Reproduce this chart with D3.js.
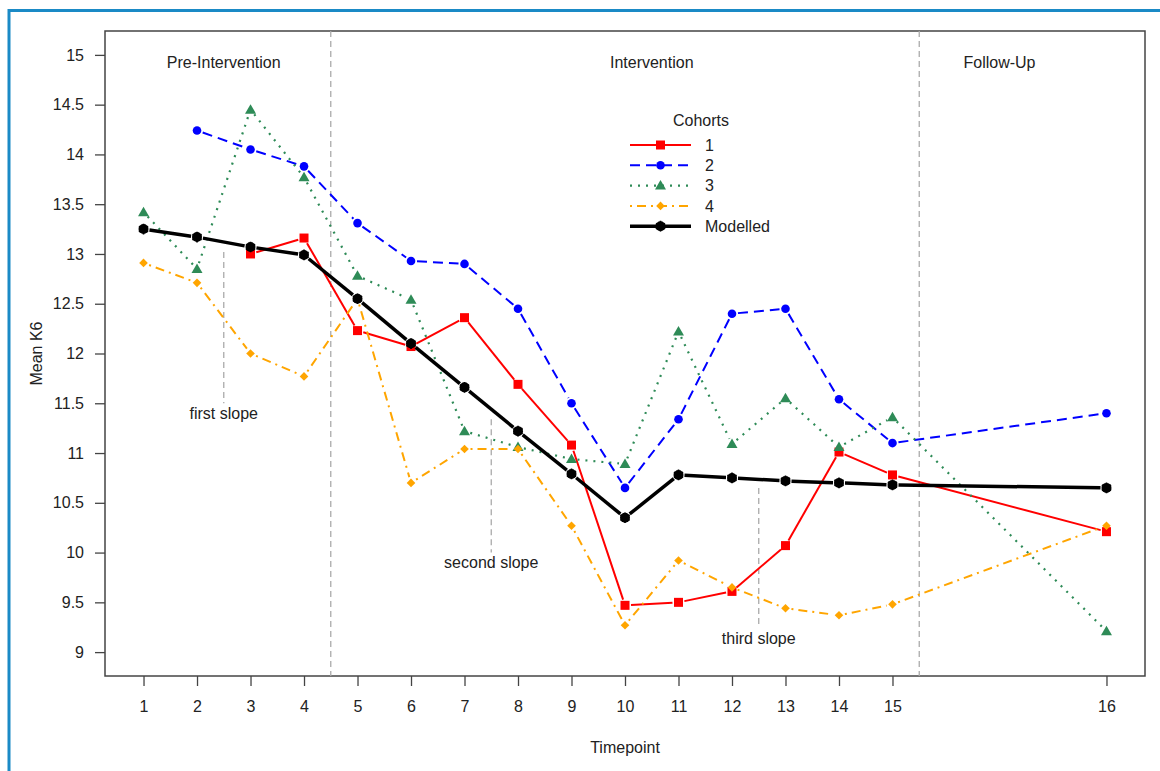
<!DOCTYPE html>
<html>
<head>
<meta charset="utf-8">
<script src="https://cdn.jsdelivr.net/npm/d3@7"></script>
<style>
  body { margin: 0; background: #fff; }
  svg { display: block; font-family: "Liberation Sans", Arial, sans-serif; }
  svg text { fill: #222; font-size: 16px; font-family: "Liberation Sans", Arial, sans-serif; }
</style>
</head>
<body>
<div id="chart"></div>
<script>
/* Mean K6 by timepoint, cohorts + modelled */

// timepoint positions on the x scale (16 sits after a gap) and their labels
const timeX = [1, 2, 3, 4, 5, 6, 7, 8, 9, 10, 11, 12, 13, 14, 15, 19];
const tickLabels = ["1", "2", "3", "4", "5", "6", "7", "8", "9", "10", "11", "12", "13", "14", "15", "16"];
const yTicks = [9, 9.5, 10, 10.5, 11, 11.5, 12, 12.5, 13, 13.5, 14, 14.5, 15];

const cohort1 = [null, null, 13.00, 13.16, 12.23, 12.07, 12.36, 11.69, 11.08, 9.47, 9.50, 9.61, 10.07, 11.01, 10.78, 10.21];
const cohort2 = [null, 14.24, 14.05, 13.88, 13.31, 12.93, 12.90, 12.45, 11.50, 10.65, 11.34, 12.40, 12.45, 11.54, 11.10, 11.40];
const cohort3 = [13.42, 12.85, 14.45, 13.77, 12.78, 12.54, 11.22, 11.06, 10.94, 10.89, 12.22, 11.09, 11.55, 11.06, 11.36, 9.21];
const cohort4 = [12.91, 12.71, 12.00, 11.77, 12.55, 10.70, 11.04, 11.04, 10.27, 9.27, 9.92, 9.65, 9.44, 9.37, 9.48, 10.27];
const modelled = [13.25, 13.17, 13.07, 12.99, 12.55, 12.10, 11.66, 11.22, 10.79, 10.35, 10.78, 10.75, 10.72, 10.70, 10.68, 10.65];

const phaseBreaks = [4.5, 15.5];
const phaseLabels = ["Pre-Intervention", "Intervention", "Follow-Up"];
const phaseLabelX = [2.5, 10.5, 17];

const slopeNames = ["first slope", "second slope", "third slope"];
const slopeX = [2.5, 7.5, 12.5];
const slopeTop = [13.02, 11.34, 10.65];
const slopeBottom = [11.50, 10.00, 9.25];
const slopeLabelY = [11.40, 9.90, 9.14];

const seriesNames = ["1", "2", "3", "4", "Modelled"];

const width = 1160, height = 771,
  margin = ({ top: 31, right: 15, bottom: 95, left: 105 });

const svg = d3.select("#chart")
  .append("svg")
  .attr("width", width)
  .attr("height", height)
  .attr("viewBox", [0, 0, width, height]);

// outer blue frame
svg.append("path")
  .attr("d", `M9,${height + 5}V10.5H${width + 5}`)
  .attr("fill", "none")
  .attr("stroke", "#1a8ac6")
  .attr("stroke-width", 3);

let x = d3.scaleLinear()
  .domain([0.28, 19.72])
  .range([margin.left, width - margin.right]);

let y = d3.scaleLinear()
  .domain([8.76, 15.24])
  .range([height - margin.bottom, margin.top]);

svg.append("g")
  .attr("class", "y-axis")
  .attr("transform", `translate(${margin.left},0)`)
  .call(d3.axisLeft(y)
    .tickValues(yTicks)
    .tickFormat(d => d)
    .tickSize(10)
    .tickPadding(11));

svg.append("g")
  .attr("class", "x-axis")
  .attr("transform", `translate(0,${height - margin.bottom})`)
  .call(d3.axisBottom(x)
    .tickValues(timeX)
    .tickFormat((d, i) => tickLabels[i])
    .tickSize(10)
    .tickPadding(15));

svg.selectAll(".domain").remove();
svg.selectAll(".tick line").attr("stroke", "#444").attr("stroke-width", 1.3);
svg.selectAll(".tick text").style("font-size", "16px").style("fill", "#222");

svg.append("rect")
  .attr("x", margin.left)
  .attr("y", margin.top)
  .attr("width", width - margin.left - margin.right)
  .attr("height", height - margin.top - margin.bottom)
  .attr("fill", "none")
  .attr("stroke", "#444")
  .attr("stroke-width", 1.5);

svg.append("text")
  .attr("text-anchor", "middle")
  .attr("x", (margin.left + width - margin.right) / 2)
  .attr("y", 753)
  .text("Timepoint");

svg.append("text")
  .attr("text-anchor", "middle")
  .attr("transform", `translate(42,${(margin.top + height - margin.bottom) / 2}) rotate(-90)`)
  .text("Mean K6");

// phase separators
svg.selectAll(".phase-line")
  .data(phaseBreaks)
  .join("line")
  .attr("x1", d => x(d)).attr("x2", d => x(d))
  .attr("y1", margin.top).attr("y2", height - margin.bottom)
  .attr("stroke", "#aaa")
  .attr("stroke-width", 1.3)
  .attr("stroke-dasharray", "6,4");

svg.selectAll(".phase-label")
  .data(phaseLabels)
  .join("text")
  .attr("text-anchor", "middle")
  .attr("x", (d, i) => x(phaseLabelX[i]))
  .attr("y", 62)
  .attr("dy", "0.35em")
  .text(d => d);

// slope markers
svg.selectAll(".slope-line")
  .data(slopeNames)
  .join("line")
  .attr("x1", (d, i) => x(slopeX[i])).attr("x2", (d, i) => x(slopeX[i]))
  .attr("y1", (d, i) => y(slopeTop[i])).attr("y2", (d, i) => y(slopeBottom[i]))
  .attr("stroke", "#aaa")
  .attr("stroke-width", 1.3)
  .attr("stroke-dasharray", "6,4");

svg.selectAll(".slope-label")
  .data(slopeNames)
  .join("text")
  .attr("text-anchor", "middle")
  .attr("x", (d, i) => x(slopeX[i]))
  .attr("y", (d, i) => y(slopeLabelY[i]))
  .attr("dy", "0.35em")
  .text(d => d);

const styles = [
  { values: cohort1, color: "#ff0000", width: 2, dash: null, shape: "square" },
  { values: cohort2, color: "#0000ff", width: 2, dash: "10,6", shape: "circle" },
  { values: cohort3, color: "#2e8b57", width: 2.2, dash: "2,6", shape: "triangle" },
  { values: cohort4, color: "#ffa500", width: 2, dash: "2,5,9,5", shape: "diamond" },
  { values: modelled, color: "#000000", width: 3.5, dash: null, shape: "modelled" }
];

function drawMarker(g, shape, color, cx, cy) {
  if (shape === "square") {
    g.append("rect").attr("x", cx - 4.5).attr("y", cy - 4.5)
      .attr("width", 9).attr("height", 9).attr("fill", color);
  } else if (shape === "circle") {
    g.append("circle").attr("cx", cx).attr("cy", cy).attr("r", 4.3).attr("fill", color);
  } else if (shape === "triangle") {
    g.append("path").attr("transform", `translate(${cx},${cy})`)
      .attr("d", "M0,-5.5L5.5,4L-5.5,4Z").attr("fill", color);
  } else if (shape === "diamond") {
    g.append("path").attr("transform", `translate(${cx},${cy})`)
      .attr("d", "M0,-4.3L4.3,0L0,4.3L-4.3,0Z").attr("fill", color);
  } else {
    g.append("circle").attr("cx", cx).attr("cy", cy).attr("r", 5).attr("fill", color);
    g.append("path").attr("transform", `translate(${cx},${cy})`)
      .attr("d", d3.symbol(d3.symbolAsterisk, 80)())
      .attr("fill", "none").attr("stroke", color).attr("stroke-width", 1.6);
  }
}

// type "b": segments leave a gap around each point
const gap = 6;
for (let s of styles) {
  let pts = [];
  s.values.forEach((v, i) => { if (v != null) pts.push([x(timeX[i]), y(v)]); });
  let segs = [];
  for (let i = 0; i < pts.length - 1; i++) {
    let [x0, y0] = pts[i], [x1, y1] = pts[i + 1];
    let len = Math.hypot(x1 - x0, y1 - y0);
    if (len <= 2 * gap) continue;
    let ux = (x1 - x0) / len, uy = (y1 - y0) / len;
    segs.push([[x0 + ux * gap, y0 + uy * gap], [x1 - ux * gap, y1 - uy * gap]]);
  }
  let g = svg.append("g");
  g.selectAll("path.seg")
    .data(segs)
    .join("path")
    .attr("d", d => d3.line()(d))
    .attr("fill", "none")
    .attr("stroke", s.color)
    .attr("stroke-width", s.width)
    .attr("stroke-dasharray", s.dash);
  pts.forEach(p => drawMarker(g, s.shape, s.color, p[0], p[1]));
}

// legend
const legend = svg.append("g");
legend.append("text")
  .attr("text-anchor", "middle")
  .attr("x", 701)
  .attr("y", 126)
  .text("Cohorts");

styles.forEach((s, i) => {
  let ly = 145 + i * 20.3;
  legend.append("line")
    .attr("x1", 630).attr("x2", 691)
    .attr("y1", ly).attr("y2", ly)
    .attr("stroke", s.color)
    .attr("stroke-width", s.width)
    .attr("stroke-dasharray", s.dash);
  drawMarker(legend, s.shape, s.color, 660.5, ly);
  legend.append("text")
    .attr("x", 705)
    .attr("y", ly)
    .attr("dy", "0.35em")
    .text(seriesNames[i]);
});
</script>
</body>
</html>
